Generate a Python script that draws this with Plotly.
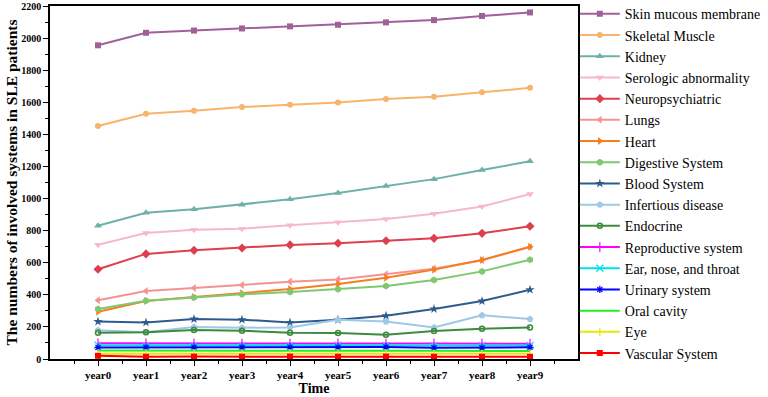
import plotly.graph_objects as go

years = ["year0", "year1", "year2", "year3", "year4", "year5", "year6", "year7", "year8", "year9"]
x_pos = list(range(len(years)))

skin = [1955, 2033, 2047, 2060, 2073, 2083, 2098, 2112, 2138, 2160]
skeletal = [1452, 1528, 1547, 1570, 1585, 1599, 1620, 1634, 1662, 1690]
kidney = [830, 912, 933, 962, 995, 1035, 1078, 1121, 1178, 1232]
serologic = [712, 785, 806, 812, 833, 852, 872, 905, 951, 1028]
neuro = [559, 655, 677, 692, 711, 721, 737, 752, 783, 827]
lungs = [366, 424, 442, 461, 482, 496, 528, 563, 616, 698]
heart = [295, 361, 386, 409, 436, 467, 507, 557, 617, 700]
digestive = [312, 363, 384, 403, 417, 434, 455, 492, 546, 619]
blood = [233, 228, 249, 245, 228, 245, 270, 312, 361, 432]
infectious = [179, 166, 199, 195, 197, 245, 233, 197, 272, 249]
endocrine = [164, 166, 181, 176, 164, 162, 151, 174, 189, 197]
reproductive = [98, 97, 97, 96, 96, 97, 96, 96, 96, 95]
ear = [86, 85, 85, 85, 85, 86, 85, 85, 85, 84]
urinary = [72, 73, 74, 73, 74, 74, 75, 70, 70, 73]
oral = [53, 52, 52, 52, 52, 52, 51, 51, 50, 50]
eye = [33, 33, 33, 32, 33, 33, 33, 32, 32, 32]
vascular = [20, 14, 15, 14, 15, 14, 15, 14, 14, 14]

series = [
    ("Skin mucous membrane", skin, "#A0609A", "square", 6),
    ("Skeletal Muscle", skeletal, "#F8B46C", "circle", 6),
    ("Kidney", kidney, "#6FB0A8", "triangle-up", 7),
    ("Serologic abnormality", serologic, "#F6B8CB", "triangle-down", 7),
    ("Neuropsychiatric", neuro, "#DD3F4E", "diamond", 7),
    ("Lungs", lungs, "#F59393", "triangle-left", 7),
    ("Heart", heart, "#F57E1E", "triangle-right", 7),
    ("Digestive System", digestive, "#80C870", "hexagon", 7),
    ("Blood System", blood, "#2E5B8E", "star", 7),
    ("Infertious disease", infectious, "#9DC8E6", "pentagon", 7),
    ("Endocrine", endocrine, "#3C8B3C", "circle-open", 5),
    ("Reproductive system", reproductive, "#FF00FF", "line-ns-open", 7),
    ("Ear, nose, and throat", ear, "#00E0EE", "x-thin-open", 7),
    ("Urinary system", urinary, "#0000FF", "asterisk-open", 6),
    ("Oral cavity", oral, "#22EE22", "circle", 0),
    ("Eye", eye, "#E8E800", "line-ns-open", 6),
    ("Vascular System", vascular, "#FF0000", "square", 6),
]

fig = go.Figure()
for name, vals, color, sym, size in series:
    mk = dict(symbol=sym, size=size, color=color)
    if sym.endswith("-open") and sym != "circle-open":
        mk["line"] = dict(color="#8080C8" if name == "Urinary system" else color, width=1.2)
    elif sym == "circle-open":
        mk["line"] = dict(color=color, width=1.5)
    fig.add_trace(go.Scatter(
        x=x_pos, y=vals, name=name, mode="lines+markers" if size > 0 else "lines",
        line=dict(color=color, width=2), marker=mk,
    ))

serif = "Liberation Serif, Times New Roman, serif"
fig.update_layout(
    width=768, height=397,
    margin=dict(l=50, r=190, t=6, b=38, autoexpand=False),
    paper_bgcolor="white", plot_bgcolor="white",
    font=dict(family=serif, color="black"),
    legend=dict(x=0.994, y=1.022, xanchor="left", yanchor="top",
                font=dict(family=serif, size=14, color="black"),
                bgcolor="rgba(0,0,0,0)", itemwidth=40, tracegroupgap=0,
                maxheight=500),
    xaxis=dict(
        range=[-1, 10], tickmode="array", tickvals=x_pos, ticktext=years,
        ticks="outside", ticklen=5, tickwidth=1.2, tickcolor="black",
        showline=True, linecolor="black", linewidth=1.5, mirror=True,
        showgrid=False, zeroline=False, ticklabeloverflow="allow",
        tickfont=dict(family=serif, size=11, color="black", weight="bold"),
        title=dict(text="<b>Time</b>", font=dict(family=serif, size=14), standoff=2),
        minor=dict(tickmode="array", tickvals=[v + 0.5 for v in range(-1, 10)],
                   ticks="outside", ticklen=3, tickcolor="black"),
    ),
    yaxis=dict(
        range=[0, 2200], dtick=200,
        ticks="outside", ticklen=5, tickwidth=1.2, tickcolor="black",
        showline=True, linecolor="black", linewidth=1.5, mirror=True,
        showgrid=False, zeroline=False, ticklabeloverflow="allow",
        tickfont=dict(family=serif, size=10, color="black", weight="bold"),
        minor=dict(dtick=100, ticks="outside", ticklen=3, tickcolor="black"),
    ),
    annotations=[dict(
        text="<b>The numbers of involved systems in SLE patients</b>",
        xref="paper", yref="paper", x=-0.0720, y=0.5,
        xanchor="center", yanchor="middle", textangle=-90, showarrow=False,
        font=dict(family=serif, size=15.5, color="black"),
    )],
)

fig.write_html("out.html", config={"displayModeBar": False},
               post_script="document.body.style.margin='0';")
